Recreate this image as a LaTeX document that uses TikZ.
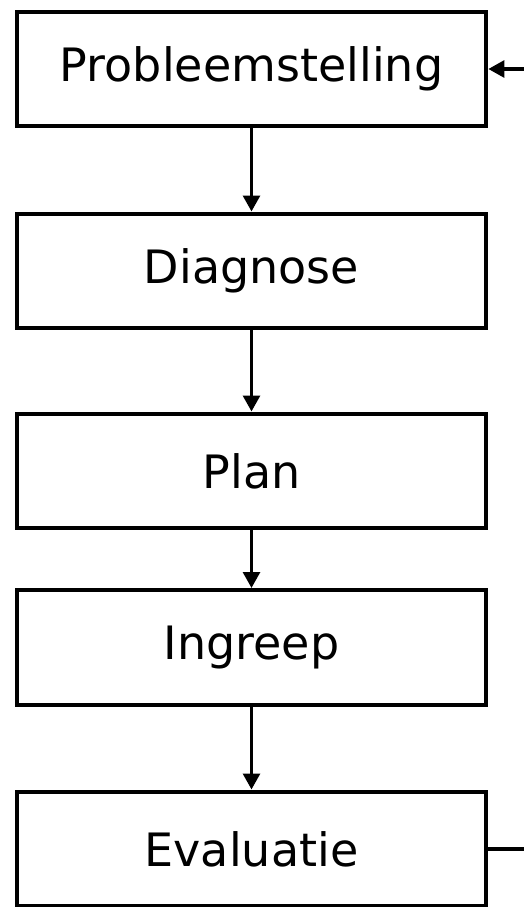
\documentclass[tikz,border=0pt]{standalone}
\usepackage{fontspec}
\setmainfont{DejaVu Sans}
\usetikzlibrary{arrows.meta}

\tikzset{every picture/.style={line width=0.75pt}}
\tikzset{
  stepbox/.style={draw, rectangle, line width=3.2pt, minimum width=352pt, minimum height=86pt, inner sep=0.75pt, font=\fontsize{34.5}{41}\selectfont},
  flow/.style={line width=2.8pt, -{Triangle[width=12.5pt,length=12pt]}}
}

\begin{document}
\begin{tikzpicture}[x=0.75pt,y=0.75pt,yscale=-1,xscale=1]
\useasboundingbox (0,0) rectangle (524,907);

% Text Node
\node [stepbox] (probl) at (251.5,69) {Probleemstelling};
% Text Node
\node [stepbox] (diag) at (251.5,271) {Diagnose};
% Text Node
\node [stepbox] (plan) at (251.5,471) {Plan};
% Text Node
\node [stepbox] (ingr) at (251.5,647.5) {Ingreep};
% Text Node
\node [stepbox] (eval) at (251.5,849) {Evaluatie};

% Connection
\draw [flow] (probl) -- (diag);
% Connection
\draw [flow] (diag) -- (plan);
% Connection
\draw [flow] (plan) -- (ingr);
% Connection
\draw [flow] (ingr) -- (eval);
% Connection
\coordinate (fb) at (526,460);
\draw [flow] (eval.east) -| (fb) |- (probl.east);

\end{tikzpicture}
\end{document}
